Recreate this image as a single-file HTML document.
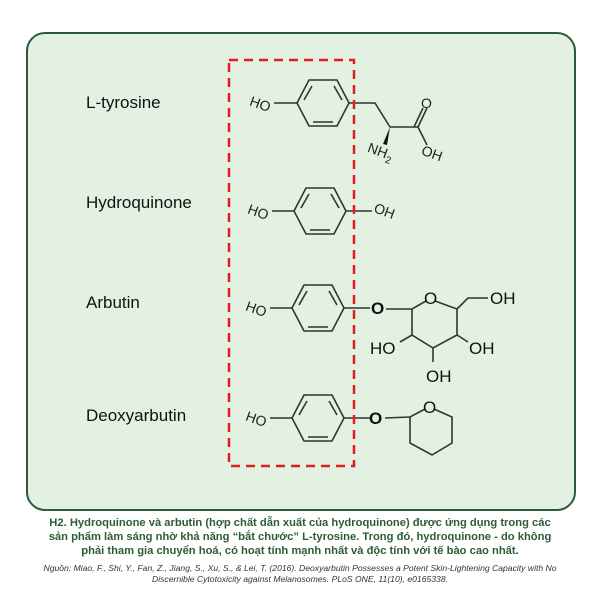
<!DOCTYPE html>
<html><head><meta charset="utf-8"><style>
body{margin:0;background:#fff;width:600px;height:600px;overflow:hidden}
svg{display:block}
</style></head><body>
<svg width="600" height="600" viewBox="0 0 600 600" font-family="Liberation Sans, sans-serif">
<rect x="27" y="33" width="548" height="477" rx="18" fill="#e3f1e3" stroke="#2f5a3a" stroke-width="2"/>
<g font-size="17" fill="#111">
<text x="86" y="108">L-tyrosine</text>
<text x="86" y="208">Hydroquinone</text>
<text x="86" y="308">Arbutin</text>
<text x="86" y="421">Deoxyarbutin</text>
</g>
<g stroke="#333" stroke-width="1.6" fill="none">
<g transform="translate(323,103)"><path d="M-26,0 L-14,-23 L14,-23 L26,0 L14,23 L-14,23 Z M-10,19 L10,19 M11,-17 L19,-3 M-11,-17 L-19,-3"/></g>
<g transform="translate(320,211)"><path d="M-26,0 L-14,-23 L14,-23 L26,0 L14,23 L-14,23 Z M-10,19 L10,19 M11,-17 L19,-3 M-11,-17 L-19,-3"/></g>
<g transform="translate(318,308)"><path d="M-26,0 L-14,-23 L14,-23 L26,0 L14,23 L-14,23 Z M-10,19 L10,19 M11,-17 L19,-3 M-11,-17 L-19,-3"/></g>
<g transform="translate(318,418)"><path d="M-26,0 L-14,-23 L14,-23 L26,0 L14,23 L-14,23 Z M-10,19 L10,19 M11,-17 L19,-3 M-11,-17 L-19,-3"/></g>
<path d="M274,103 L297,103 M349,103 L375,103 L390,127 L418,127 L427,108 M414,127 L423,108 M418,127 L427,145"/>
<path d="M272,211 L294,211 M346,211 L372,211"/>
<path d="M270,308 L292,308 M344,308 L370,308"/>
<path d="M270,418 L292,418 M344,418 L370,418"/>
<path d="M386,309 L412,309 L426,301 M435,301 L457,309 L457,335 L433,348 L412,335 L412,309 M457,309 L468,298 L488,298 M412,335 L400,342 M457,335 L468,342 M433,348 L433,362"/>
<path d="M385,418 L410,417 L425,409 M434,409 L452,417 L452,443 L432,455 L410,443 L410,417"/>
</g>
<polygon points="390,127 383,144 387,145" fill="#111"/>
<g fill="#222" font-size="14">
<text x="250" y="108" transform="rotate(20 258 103)">HO</text>
<text x="248" y="216" transform="rotate(20 256 211)">HO</text>
<text x="246" y="313" transform="rotate(20 254 308)">HO</text>
<text x="246" y="423" transform="rotate(20 254 418)">HO</text>
<text x="374" y="216" transform="rotate(20 385 211)">OH</text>
<text x="421" y="108">O</text>
<text x="422" y="158" transform="rotate(20 432 152)">OH</text>
<text x="368" y="156" transform="rotate(20 380 150)">NH<tspan font-size="10" dy="4">2</tspan></text>
</g>
<g fill="#111" font-size="17">
<text x="371" y="314" font-weight="bold">O</text>
<text x="424" y="304">O</text>
<text x="490" y="304">OH</text>
<text x="370" y="354">HO</text>
<text x="469" y="354">OH</text>
<text x="426" y="382">OH</text>
<text x="369" y="424" font-weight="bold">O</text>
<text x="423" y="413">O</text>
</g>
<rect x="229" y="60" width="125" height="406" fill="none" stroke="#e02020" stroke-width="2.5" stroke-dasharray="9,6"/>
<g fill="#2c5c36" font-size="11.2" font-weight="bold" text-anchor="middle" font-family="Liberation Sans, Noto Sans CJK SC, sans-serif">
<text x="300" y="526">H2. Hydroquinone và arbutin (hợp chất dẫn xuất của hydroquinone) được ứng dụng trong các</text>
<text x="300" y="540">sản phẩm làm sáng nhờ khả năng “bắt chước” L-tyrosine. Trong đó, hydroquinone - do không</text>
<text x="300" y="554">phải tham gia chuyển hoá, có hoạt tính mạnh nhất và độc tính với tế bào cao nhất.</text>
</g>
<g fill="#333" font-size="8.6" font-style="italic" text-anchor="middle">
<text x="300" y="571">Nguồn: Miao, F., Shi, Y., Fan, Z., Jiang, S., Xu, S., &amp; Lei, T. (2016). Deoxyarbutin Possesses a Potent Skin-Lightening Capacity with No</text>
<text x="300" y="582">Discernible Cytotoxicity against Melanosomes. PLoS ONE, 11(10), e0165338.</text>
</g>
</svg>
</body></html>
